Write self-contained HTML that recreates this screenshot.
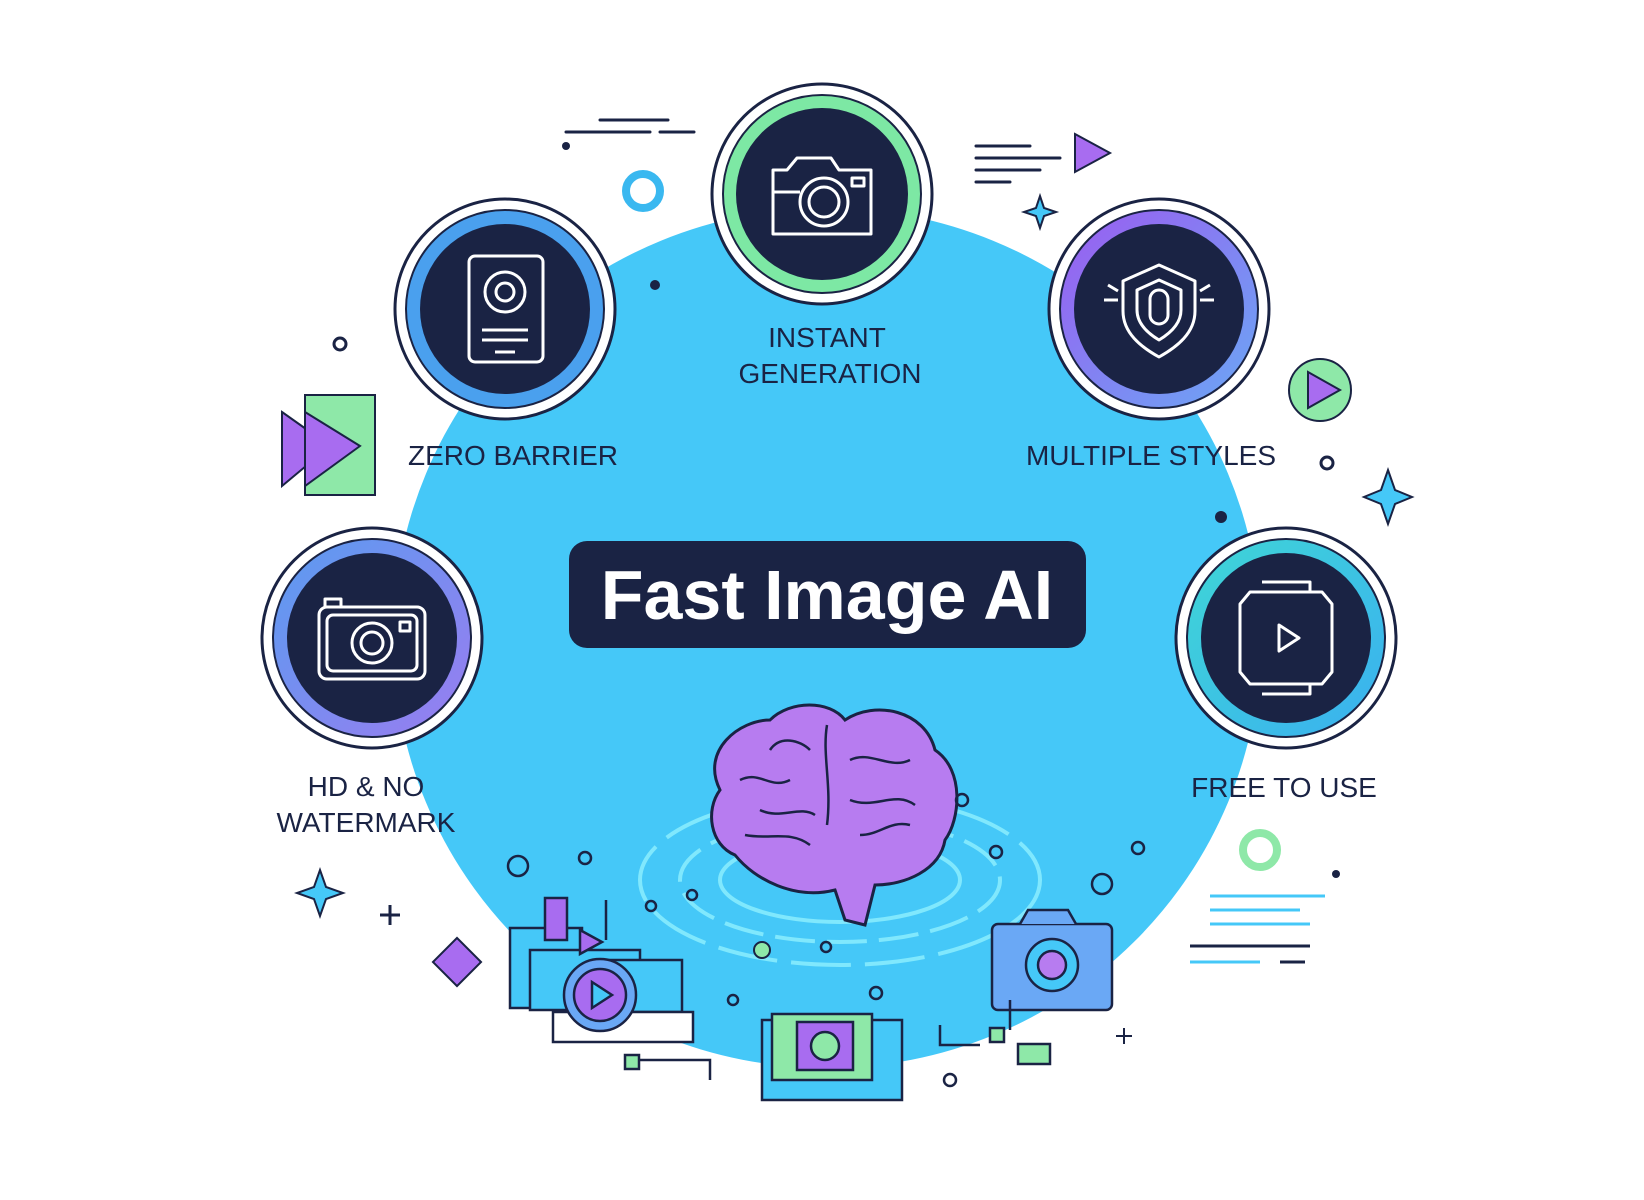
<!DOCTYPE html>
<html><head><meta charset="utf-8"><style>
html,body{margin:0;padding:0;background:#fff;}
svg{display:block;}
text{font-family:"Liberation Sans","DejaVu Sans",sans-serif;}
</style></head><body>
<svg width="1644" height="1200" viewBox="0 0 1644 1200" xmlns="http://www.w3.org/2000/svg">
<defs>
<linearGradient id="gMS" x1="0" y1="0" x2="1" y2="1"><stop offset="0" stop-color="#9b5cf0"/><stop offset="1" stop-color="#6aa8f5"/></linearGradient>
<linearGradient id="gHD" x1="0" y1="0" x2="1" y2="1"><stop offset="0" stop-color="#5a9cf0"/><stop offset="1" stop-color="#9a7cf0"/></linearGradient>
<linearGradient id="gFr" x1="0" y1="0" x2="1" y2="1"><stop offset="0" stop-color="#3fd6d6"/><stop offset="1" stop-color="#3ab0f0"/></linearGradient>
</defs>
<rect width="1644" height="1200" fill="#fff"/>
<ellipse cx="827" cy="638" rx="434" ry="430" fill="#45c8f8"/>

<g stroke="#1a2344" stroke-width="3" stroke-linecap="round" fill="none">
<line x1="600" y1="120" x2="668" y2="120"/><line x1="566" y1="132" x2="650" y2="132"/><line x1="660" y1="132" x2="694" y2="132"/>
<line x1="976" y1="146" x2="1030" y2="146"/><line x1="976" y1="158" x2="1060" y2="158"/><line x1="976" y1="170" x2="1040" y2="170"/><line x1="976" y1="182" x2="1010" y2="182"/>
</g>
<circle cx="566" cy="146" r="4" fill="#1a2344"/>
<circle cx="643" cy="191" r="17" fill="none" stroke="#3ab8f0" stroke-width="8"/>
<circle cx="655" cy="285" r="5" fill="#1a2344"/>
<circle cx="340" cy="344" r="6" fill="none" stroke="#1a2344" stroke-width="3"/>
<path d="M1075 134 L1110 153 L1075 172 Z" fill="#a86cf0" stroke="#1a2344" stroke-width="2"/>
<path d="M1040 196 L1044 208 L1056 212 L1044 216 L1040 228 L1036 216 L1024 212 L1036 208 Z" fill="#45c8f8" stroke="#1a2344" stroke-width="2"/>
<circle cx="1320" cy="390" r="31" fill="#8ee8a8" stroke="#1a2344" stroke-width="2"/>
<path d="M1308 372 L1340 390 L1308 408 Z" fill="#a86cf0" stroke="#1a2344" stroke-width="2"/>
<circle cx="1327" cy="463" r="6" fill="none" stroke="#1a2344" stroke-width="3"/>
<path d="M1388 470 L1395 490 L1412 497 L1395 504 L1388 524 L1381 504 L1364 497 L1381 490 Z" fill="#45c8f8" stroke="#1a2344" stroke-width="2"/>
<circle cx="1221" cy="517" r="6" fill="#1a2344"/>
<rect x="305" y="395" width="70" height="100" fill="#8ee8a8" stroke="#1a2344" stroke-width="2"/>
<path d="M282 412 L330 446 L282 486 Z" fill="#a86cf0" stroke="#1a2344" stroke-width="2"/>
<path d="M305 412 L360 446 L305 486 Z" fill="#a86cf0" stroke="#1a2344" stroke-width="2"/>
<path d="M320 870 L326 887 L343 893 L326 899 L320 916 L314 899 L297 893 L314 887 Z" fill="#45c8f8" stroke="#1a2344" stroke-width="2"/>
<path d="M390 905 v20 M380 915 h20" stroke="#1a2344" stroke-width="3"/>
<rect x="440" y="945" width="34" height="34" transform="rotate(45 457 962)" fill="#a86cf0" stroke="#1a2344" stroke-width="2"/>
<circle cx="1260" cy="850" r="17" fill="none" stroke="#8ee8a8" stroke-width="8"/>
<circle cx="1336" cy="874" r="4" fill="#1a2344"/>
<g stroke="#45c8f8" stroke-width="3"><line x1="1210" y1="896" x2="1325" y2="896"/><line x1="1210" y1="910" x2="1300" y2="910"/><line x1="1210" y1="924" x2="1310" y2="924"/><line x1="1190" y1="962" x2="1260" y2="962"/></g>
<g stroke="#1a2344" stroke-width="3"><line x1="1190" y1="946" x2="1310" y2="946"/><line x1="1280" y1="962" x2="1305" y2="962"/></g>
<path d="M1124 1028 v16 M1116 1036 h16" stroke="#1a2344" stroke-width="2"/>

<circle cx="822" cy="194" r="110" fill="#fff" stroke="#1a2344" stroke-width="3"/>
<circle cx="822" cy="194" r="99" fill="#7de8a4" stroke="#1a2344" stroke-width="2"/>
<circle cx="822" cy="194" r="86" fill="#1a2344"/>
<circle cx="505" cy="309" r="110" fill="#fff" stroke="#1a2344" stroke-width="3"/>
<circle cx="505" cy="309" r="99" fill="#4aa0ee" stroke="#1a2344" stroke-width="2"/>
<circle cx="505" cy="309" r="85" fill="#1a2344"/>
<circle cx="1159" cy="309" r="110" fill="#fff" stroke="#1a2344" stroke-width="3"/>
<circle cx="1159" cy="309" r="99" fill="url(#gMS)" stroke="#1a2344" stroke-width="2"/>
<circle cx="1159" cy="309" r="85" fill="#1a2344"/>
<circle cx="372" cy="638" r="110" fill="#fff" stroke="#1a2344" stroke-width="3"/>
<circle cx="372" cy="638" r="99" fill="url(#gHD)" stroke="#1a2344" stroke-width="2"/>
<circle cx="372" cy="638" r="85" fill="#1a2344"/>
<circle cx="1286" cy="638" r="110" fill="#fff" stroke="#1a2344" stroke-width="3"/>
<circle cx="1286" cy="638" r="99" fill="url(#gFr)" stroke="#1a2344" stroke-width="2"/>
<circle cx="1286" cy="638" r="85" fill="#1a2344"/>

<g fill="none" stroke="#fff" stroke-width="3" stroke-linejoin="round">
<path d="M773 170 h14 l10 -12 h34 l8 12 h32 v64 h-98 Z"/><circle cx="824" cy="202" r="24"/><circle cx="824" cy="202" r="15"/><rect x="852" y="178" width="12" height="8"/><line x1="773" y1="192" x2="800" y2="192"/>
<rect x="469" y="256" width="74" height="106" rx="6"/><circle cx="505" cy="292" r="20"/><circle cx="505" cy="292" r="9"/><line x1="482" y1="330" x2="528" y2="330"/><line x1="482" y1="340" x2="528" y2="340"/><line x1="495" y1="352" x2="515" y2="352"/>
<path d="M1159 265 l36 16 v30 c0 22 -18 36 -36 46 c-18 -10 -36 -24 -36 -46 v-30 Z"/><path d="M1159 280 l22 10 v20 c0 14 -12 24 -22 30 c-10 -6 -22 -16 -22 -30 v-20 Z"/><rect x="1150" y="290" width="18" height="34" rx="9"/><path d="M1104 300 h14 M1200 300 h14 M1108 285 l10 6 M1210 285 l-10 6"/>
<rect x="319" y="607" width="106" height="72" rx="8"/><rect x="327" y="615" width="90" height="56" rx="6"/><circle cx="372" cy="643" r="20"/><circle cx="372" cy="643" r="11"/><rect x="400" y="622" width="10" height="9"/><path d="M325 607 v-8 h16 v8"/>
<path d="M1250 592 h72 l10 12 v68 l-10 12 h-72 l-10 -12 v-68 Z"/><path d="M1262 582 h48 v10 M1262 694 h48 v-10"/><path d="M1279 625 l20 13 l-20 13 Z"/>
</g>

<rect x="569" y="541" width="517" height="107" rx="18" fill="#1a2344"/>
<text x="827" y="619" text-anchor="middle" font-size="70" font-weight="bold" fill="#fff">Fast Image AI</text>

<g font-size="28" fill="#1a2344" text-anchor="middle">
<text x="827" y="347">INSTANT</text>
<text x="830" y="383">GENERATION</text>
<text x="513" y="465">ZERO BARRIER</text>
<text x="1151" y="465">MULTIPLE STYLES</text>
<text x="366" y="796">HD &amp; NO</text>
<text x="366" y="832">WATERMARK</text>
<text x="1284" y="797">FREE TO USE</text>
</g>

<g fill="none" stroke="#8ff0ff" stroke-width="4" opacity="0.8">
<ellipse cx="840" cy="880" rx="200" ry="85" stroke-dasharray="60 14"/>
<ellipse cx="840" cy="880" rx="160" ry="62" stroke-dasharray="40 12"/>
<ellipse cx="840" cy="880" rx="120" ry="42"/>
</g>
<path d="M720 790 c-20 -40 20 -70 50 -70 c20 -20 60 -20 75 0 c30 -20 80 -10 90 30 c30 20 25 70 10 90 c-5 30 -40 45 -70 45 l-10 40 l-20 -5 l-10 -30 c-40 10 -80 -10 -100 -35 c-25 -10 -30 -45 -15 -65 Z" fill="#b77cf0" stroke="#1a2344" stroke-width="3"/>
<g fill="none" stroke="#1a2344" stroke-width="2.5">
<path d="M827 725 c-5 30 5 60 0 100"/><path d="M740 780 c20 -10 30 10 50 0 M760 810 c20 10 40 -5 55 5 M850 760 c20 -10 40 10 60 0 M850 800 c25 10 45 -10 65 5 M770 750 c10 -15 30 -10 40 0 M860 835 c20 0 30 -15 50 -10 M745 835 c25 5 45 -5 65 10"/>
</g>
<g fill="none" stroke="#1a2344" stroke-width="2.5">
<circle cx="962" cy="800" r="6"/><circle cx="996" cy="852" r="6"/><circle cx="1138" cy="848" r="6"/><circle cx="585" cy="858" r="6"/><circle cx="692" cy="895" r="5"/><circle cx="651" cy="906" r="5"/><circle cx="826" cy="947" r="5"/><circle cx="733" cy="1000" r="5"/><circle cx="876" cy="993" r="6"/><circle cx="950" cy="1080" r="6"/><circle cx="518" cy="866" r="10"/><circle cx="1102" cy="884" r="10"/>
</g>
<circle cx="762" cy="950" r="8" fill="#8ee8a8" stroke="#1a2344" stroke-width="2"/>

<g stroke="#1a2344" stroke-width="2.5">
<rect x="510" y="928" width="72" height="80" fill="#45c8f8"/>
<rect x="530" y="950" width="110" height="60" fill="#45c8f8"/>
<rect x="600" y="960" width="82" height="52" fill="#45c8f8"/>
<rect x="553" y="1012" width="140" height="30" fill="#fff"/>
<rect x="545" y="898" width="22" height="42" fill="#a86cf0"/>
<circle cx="600" cy="995" r="36" fill="#6aa8f5"/>
<circle cx="600" cy="995" r="26" fill="#a86cf0"/>
<path d="M592 982 l20 13 l-20 13 Z" fill="#45c8f8"/>
<path d="M580 930 l22 12 l-22 12 Z" fill="#a86cf0"/>
<rect x="992" y="924" width="120" height="86" rx="6" fill="#6aa8f5"/>
<path d="M1020 924 l8 -14 h40 l8 14" fill="#6aa8f5"/>
<circle cx="1052" cy="965" r="26" fill="#45c8f8"/><circle cx="1052" cy="965" r="14" fill="#b77cf0"/>
<rect x="762" y="1020" width="140" height="80" fill="#45c8f8"/>
<rect x="772" y="1014" width="100" height="66" fill="#8ee8a8"/>
<rect x="797" y="1022" width="56" height="48" fill="#a86cf0"/>
<circle cx="825" cy="1046" r="14" fill="#8ee8a8"/>
<rect x="1018" y="1044" width="32" height="20" fill="#8ee8a8"/>
<rect x="990" y="1028" width="14" height="14" fill="#8ee8a8"/>
<rect x="625" y="1055" width="14" height="14" fill="#8ee8a8"/>
<path d="M640 1060 h70 v20 M606 900 v40 M940 1025 v20 h40 M1010 1000 v30" fill="none"/>
</g>
</svg>
</body></html>
